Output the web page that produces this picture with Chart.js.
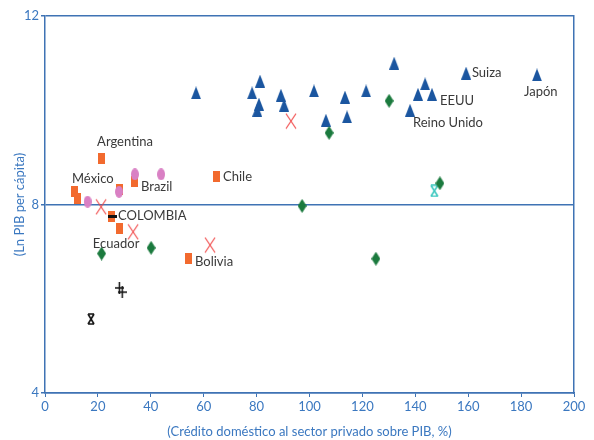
<!DOCTYPE html>
<html>
<head>
<meta charset="utf-8">
<script src="https://cdn.jsdelivr.net/npm/chart.js@4.4.1/dist/chart.umd.min.js"></script>
<style>
  body { margin: 0; background: #fff; }
  #wrap { width: 594px; height: 440px; }
</style>
</head>
<body>
<div id="wrap"><canvas id="myChart" width="594" height="440"></canvas></div>
<script>
// data: x = credit to private sector (% of GDP), y = ln GDP per capita

// developed countries (blue triangles)
var devX = [57.1, 78.3, 81.3, 80.2, 80.9, 89.2, 90.4, 101.7, 106.2, 113.4, 114.2, 121.4, 132.0, 138.0, 141.0, 143.7, 146.3, 159.2, 186.0];
var devY = [10.37, 10.37, 10.62, 10.0, 10.13, 10.32, 10.11, 10.41, 9.79, 10.28, 9.86, 10.41, 11.0, 10.0, 10.34, 10.56, 10.34, 10.79, 10.75];

// latin america (orange bars)
var latX = [21.2, 11.2, 12.2, 28.0, 34.0, 65.0, 25.2, 28.0, 54.4];
var latY = [8.98, 8.27, 8.13, 8.31, 8.48, 8.59, 7.74, 7.49, 6.86];

// pink ellipses
var pinkX = [34.0, 43.9, 28.0, 16.1];
var pinkY = [8.64, 8.64, 8.27, 8.06];

// red crosses
var redX = [21.2, 33.3, 62.4, 93.0];
var redY = [7.95, 7.42, 7.14, 9.77];

// green diamonds
var greenX = [21.4, 40.1, 97.2, 107.4, 125.1, 130.1, 149.3];
var greenY = [6.96, 7.08, 7.97, 9.52, 6.85, 10.2, 8.45];

// black marks
var dashX = [25.4];
var dashY = [7.74];
var plusX = [28.1, 29.2];
var plusY = [6.23, 6.14];
var starX = [17.4];
var starY = [5.57];

// cyan star
var cyanX = [147.2];
var cyanY = [8.29];

var xTicks = [0, 20, 40, 60, 80, 100, 120, 140, 160, 180, 200];
var yTicks = [4, 8, 12];

// country names, anchored in data units
var noteText = ["Argentina", "México", "Brazil", "Chile", "COLOMBIA", "Ecuador", "Bolivia", "Suiza", "Japón", "EEUU", "Reino Unido"];
var noteX = [19.7, 10.2, 36.3, 67.3, 27.6, 18.1, 56.7, 161.4, 181.1, 149.3, 139.1];
var noteY = [9.33, 8.54, 8.37, 8.58, 7.76, 7.16, 6.78, 10.79, 10.39, 10.2, 9.73];

var axisBlue = '#3f73b4';
var textBlue = '#3b78c0';

function toPoints(xs, ys) {
    var out = [];
    for (var i = 0; i < xs.length; i++) {
        out.push({x: xs[i], y: ys[i]});
    }
    return out;
}

// FUNCTION: small canvas used as a point marker
function makeMarker(w, h, draw) {
    var c = document.createElement('canvas');
    c.width = w;
    c.height = h;
    var g = c.getContext('2d');
    draw(g, w, h);
    return c;
}

var triMark = makeMarker(10, 13, function(g, w, h){
    g.fillStyle = '#1b56a0';
    g.beginPath();
    g.moveTo(w / 2, 0);
    g.lineTo(w, h);
    g.lineTo(0, h);
    g.closePath();
    g.fill();
});
var rectMark = makeMarker(7, 11, function(g, w, h){
    g.fillStyle = '#f26a2e';
    g.fillRect(0, 0, w, h);
});
var ellMark = makeMarker(8, 12, function(g, w, h){
    g.fillStyle = '#d980c4';
    g.beginPath();
    g.ellipse(w / 2, h / 2, w / 2, h / 2, 0, 0, Math.PI * 2);
    g.fill();
});
var diaMark = makeMarker(9, 14, function(g, w, h){
    g.fillStyle = '#1b7a3e';
    g.beginPath();
    g.moveTo(w / 2, 0);
    g.lineTo(w, h / 2);
    g.lineTo(w / 2, h);
    g.lineTo(0, h / 2);
    g.closePath();
    g.fill();
});
var xMark = makeMarker(12, 17, function(g, w, h){
    g.strokeStyle = '#f04444';
    g.lineWidth = 1.1;
    g.beginPath();
    g.moveTo(1, 1); g.lineTo(w - 1, h - 1);
    g.moveTo(w - 1, 1); g.lineTo(1, h - 1);
    g.stroke();
});
var dashMark = makeMarker(9, 3, function(g, w, h){
    g.fillStyle = '#111';
    g.fillRect(0, 0, w, h);
});
var plusMark = makeMarker(9, 12, function(g, w, h){
    g.strokeStyle = '#111';
    g.lineWidth = 1.5;
    g.beginPath();
    g.moveTo(w / 2, 0); g.lineTo(w / 2, h);
    g.moveTo(0, h / 2); g.lineTo(w, h / 2);
    g.stroke();
});
function starDraw(color) {
    return function(g, w, h){
        g.strokeStyle = color;
        g.lineWidth = 1.6;
        g.beginPath();
        g.moveTo(1, 1); g.lineTo(w - 1, h - 1);
        g.moveTo(w - 1, 1); g.lineTo(1, h - 1);
        g.moveTo(1, 1); g.lineTo(w - 1, 1);
        g.moveTo(1, h - 1); g.lineTo(w - 1, h - 1);
        g.stroke();
    };
}
var starMark = makeMarker(8, 12, starDraw('#111'));
var cyanMark = makeMarker(9, 13, starDraw('#3fc8c0'));

function series(xs, ys, mark) {
    return {
        data: toPoints(xs, ys),
        pointStyle: mark,
        pointRadius: 6,
        pointHoverRadius: 6
    };
}

// plugin: write the country names next to their marks
var notesPlugin = {
    id: 'notes',
    afterDatasetsDraw: function(chart) {
        var ctx = chart.ctx;
        var sx = chart.scales.x, sy = chart.scales.y;
        ctx.save();
        ctx.font = '13px Lato';
        ctx.fillStyle = '#3a3a3a';
        ctx.textAlign = 'left';
        ctx.textBaseline = 'middle';
        for (var i = 0; i < noteText.length; i++) {
            ctx.fillText(noteText[i], sx.getPixelForValue(noteX[i]), sy.getPixelForValue(noteY[i]));
        }
        ctx.restore();
    }
};

var ctx = document.getElementById('myChart').getContext('2d');

var chart = new Chart(ctx, {
    type: 'scatter',
    data: {
        datasets: [
            series(dashX, dashY, dashMark),
            series(greenX, greenY, diaMark),
            series(cyanX, cyanY, cyanMark),
            series(pinkX, pinkY, ellMark),
            series(latX, latY, rectMark),
            series(redX, redY, xMark),
            series(plusX, plusY, plusMark),
            series(starX, starY, starMark),
            series(devX, devY, triMark)
        ]
    },
    options: {
        responsive: false,
        animation: false,
        events: [],
        layout: { padding: { top: 16, right: 20, left: 0, bottom: 0 } },
        plugins: {
            legend: { display: false },
            tooltip: { enabled: false }
        },
        scales: {
            x: {
                type: 'linear',
                min: 0,
                max: 200,
                afterBuildTicks: function(scale){ scale.ticks = xTicks.map(function(v){ return {value: v}; }); },
                afterFit: function(scale){ scale.height = 47; },
                border: { color: axisBlue, width: 1.5 },
                grid: { drawOnChartArea: false, color: axisBlue, tickLength: 4 },
                ticks: { color: textBlue, font: { family: 'Lato', size: 13 }, padding: 2 },
                title: {
                    display: true,
                    text: '(Crédito doméstico al sector privado sobre PIB, %)',
                    color: textBlue,
                    font: { family: 'Lato', size: 13 },
                    padding: { top: 4, bottom: 0 }
                }
            },
            y: {
                type: 'linear',
                min: 4,
                max: 12,
                afterBuildTicks: function(scale){ scale.ticks = yTicks.map(function(v){ return {value: v}; }); },
                afterFit: function(scale){ scale.width = 45; },
                border: { color: axisBlue, width: 1.5 },
                grid: { color: axisBlue, lineWidth: 1.5, tickLength: 4 },
                ticks: { color: textBlue, font: { family: 'Lato', size: 13 }, padding: 2 },
                title: {
                    display: true,
                    text: '(Ln PIB per cápita)',
                    color: textBlue,
                    font: { family: 'Lato', size: 13 },
                    padding: { top: 12, bottom: 4 }
                }
            },
            yRight: {
                type: 'linear',
                position: 'right',
                min: 4,
                max: 12,
                afterFit: function(scale){ scale.width = 0; },
                border: { color: axisBlue, width: 1.5 },
                grid: { display: false },
                ticks: { display: false }
            }
        }
    },
    plugins: [notesPlugin]
});
</script>
</body>
</html>
